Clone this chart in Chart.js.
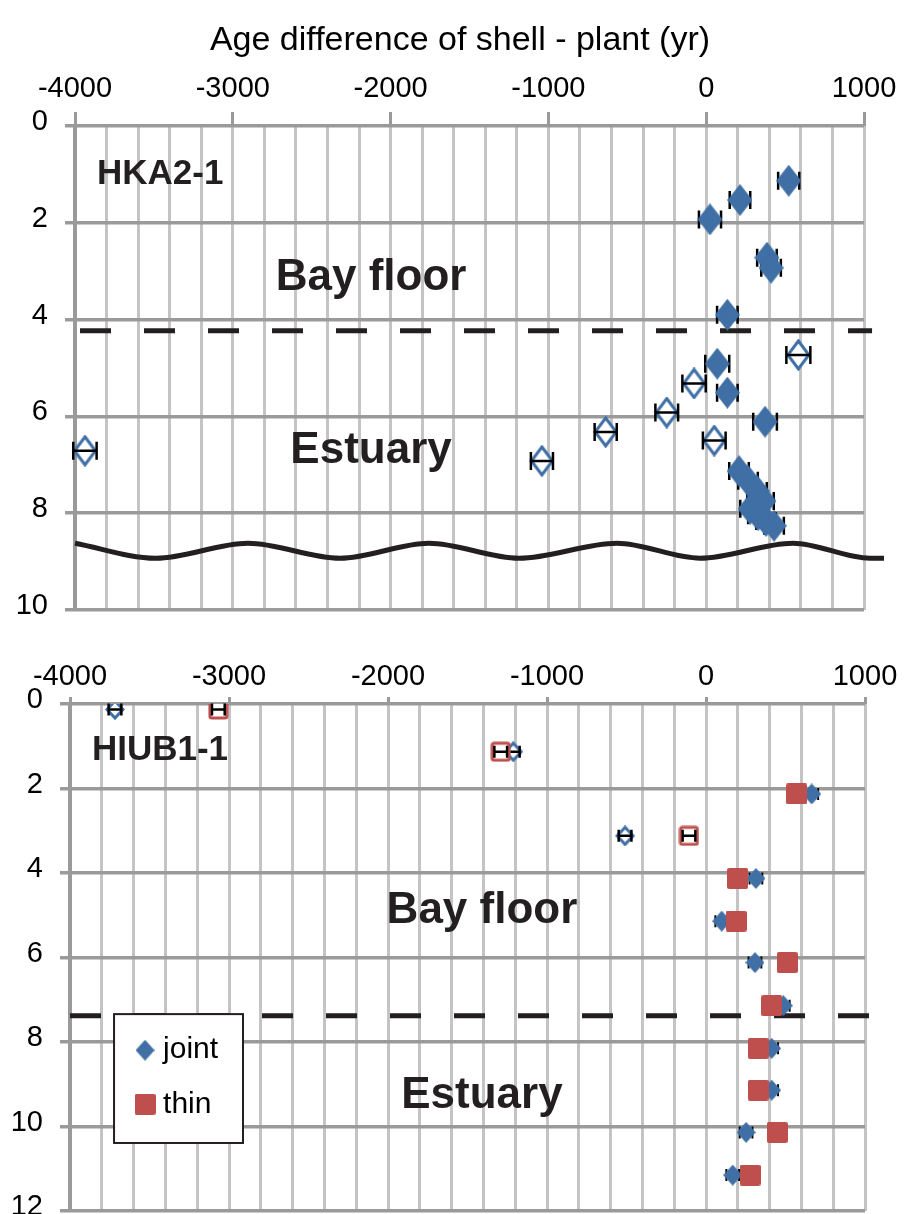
<!DOCTYPE html>
<html><head><meta charset="utf-8">
<script src="https://cdn.jsdelivr.net/npm/chart.js@4.4.1/dist/chart.umd.min.js"></script>
<style>
html,body{margin:0;padding:0;background:#fff;width:904px;height:1214px;overflow:hidden}
#c1{position:absolute;left:0;top:0}
#c2{position:absolute;left:0;top:640px}
</style></head><body>
<canvas id="c1" width="904" height="640"></canvas>
<canvas id="c2" width="904" height="594"></canvas>
<script>
// ---------- DATA ----------
const xTickValues = [-4000, -3000, -2000, -1000, 0, 1000];
const titleText = "Age difference of shell - plant (yr)";

// HKA2-1 (top panel)
const hkaFilledAge   = [523, 214, 24, 385, 411, 134, 70, 134, 373, 208, 265, 322, 366, 278, 328, 379, 430];
const hkaFilledDepth = [1.13, 1.53, 1.93, 2.72, 2.93, 3.90, 4.91, 5.51, 6.11, 7.13, 7.33, 7.54, 7.75, 7.91, 8.04, 8.16, 8.26];
const hkaFilledErr   = [67, 65, 70, 62, 62, 65, 76, 65, 75, 62, 62, 62, 62, 62, 62, 62, 62];
const hkaOpenAge     = [584, -77, -250, -637, 51, -1041, -3937];
const hkaOpenDepth   = [4.73, 5.32, 5.92, 6.32, 6.50, 6.92, 6.71];
const hkaOpenErr     = [76, 74, 72, 70, 72, 70, 74];
const hkaBoundaryDepth = 4.23;           // dashed line Bay floor / Estuary
const hkaWaveAge   = [-4000, -3487, -2904, -2321, -1757, -1186, -565, -39, 550, 1038, 1127];
const hkaWaveDepth = [8.62, 8.93, 8.62, 8.93, 8.62, 8.93, 8.62, 8.93, 8.62, 8.93, 8.93];

// HIUB1-1 (bottom panel)
const hiubFilledDepth = [2.13, 4.13, 5.14, 6.12, 7.14, 8.15, 9.14, 10.14, 11.15];
const hiubJointAge    = [665, 314, 99, 308, 486, 413, 413, 252, 168];
const hiubThinAge     = [570, 199, 189, 511, 413, 329, 329, 448, 277];
const hiubFilledErr   = [40, 40, 40, 40, 40, 40, 40, 40, 40];
const hiubOpenDepth   = [0.13, 1.13, 3.12];
const hiubJointOpenAge = [-3717, -1212, -509];
const hiubThinOpenAge  = [-3067, -1291, -107];
const hiubOpenErr      = [40, 40, 40];
const hiubBoundaryDepth = 7.38;

// ---------- STYLE ----------
const FONT = "'Liberation Sans', Arial, Helvetica, sans-serif";
const BLUE = '#3f6fa5';
const RED = '#bf4f4c';
const INK = '#231f20';
Chart.defaults.font.family = FONT;
Chart.defaults.color = '#000';

function diamond(w, h, fill, stroke, lw) {
  const c = document.createElement('canvas'); c.width = w; c.height = h;
  const g = c.getContext('2d');
  const o = stroke ? lw / 2 + 0.5 : 0;
  g.beginPath(); g.moveTo(w / 2, o); g.lineTo(w - o, h / 2); g.lineTo(w / 2, h - o); g.lineTo(o, h / 2); g.closePath();
  g.fillStyle = fill; g.fill();
  if (stroke) { g.lineWidth = lw; g.strokeStyle = stroke; g.lineJoin = 'miter'; g.stroke(); }
  return c;
}
function square(s, fill, stroke, lw) {
  const c = document.createElement('canvas'); c.width = s; c.height = s;
  const g = c.getContext('2d');
  const o = stroke ? lw / 2 + 0.5 : 0;
  g.beginPath();
  if (g.roundRect) g.roundRect(o, o, s - 2 * o, s - 2 * o, 2); else g.rect(o, o, s - 2 * o, s - 2 * o);
  g.fillStyle = fill; g.fill();
  if (stroke) { g.lineWidth = lw; g.strokeStyle = stroke; g.stroke(); }
  return c;
}
const pts = (xs, ys) => xs.map((x, i) => ({ x: x, y: ys[i] }));

// error bars plugin
function drawErr(chart, i) {
  const ds = chart.data.datasets[i];
  const xs = chart.scales.x, ys = chart.scales.y, ctx = chart.ctx;
  ctx.save();
  ctx.strokeStyle = '#000'; ctx.lineWidth = ds.errLine || 2.5;
  const cap = ds.errCap || 8;
  ds.data.forEach((p, k) => {
    const e = ds.errX[k];
    const x1 = xs.getPixelForValue(p.x - e), x2 = xs.getPixelForValue(p.x + e), y = ys.getPixelForValue(p.y);
    ctx.beginPath();
    ctx.moveTo(x1, y); ctx.lineTo(x2, y);
    ctx.moveTo(x1, y - cap); ctx.lineTo(x1, y + cap);
    ctx.moveTo(x2, y - cap); ctx.lineTo(x2, y + cap);
    ctx.stroke();
  });
  ctx.restore();
}
const errPlugin = {
  id: 'errbars',
  beforeDatasetDraw(chart, args) { const ds = chart.data.datasets[args.index]; if (ds.errX && !ds.errOnTop) drawErr(chart, args.index); },
  afterDatasetDraw(chart, args) { const ds = chart.data.datasets[args.index]; if (ds.errX && ds.errOnTop) drawErr(chart, args.index); }
};
// text annotations plugin (positions given in data units)
const textPlugin = {
  id: 'texts',
  afterDatasetsDraw(chart, args, opts) {
    const ctx = chart.ctx, xs = chart.scales.x, ys = chart.scales.y;
    ctx.save();
    (opts.items || []).forEach(t => {
      ctx.font = t.font; ctx.fillStyle = t.color || INK;
      ctx.textAlign = t.align || 'center'; ctx.textBaseline = 'middle';
      const x = t.px !== undefined ? t.px : xs.getPixelForValue(t.x);
      const y = t.py !== undefined ? t.py : ys.getPixelForValue(t.y);
      ctx.fillText(t.text, x, y);
    });
    if (opts.legend) {
      const L = opts.legend;
      const x1 = xs.getPixelForValue(L.x1), x2 = xs.getPixelForValue(L.x2);
      const y1 = ys.getPixelForValue(L.y1), y2 = ys.getPixelForValue(L.y2);
      ctx.fillStyle = '#fff'; ctx.fillRect(x1, y1, x2 - x1, y2 - y1);
      ctx.strokeStyle = INK; ctx.lineWidth = 2; ctx.strokeRect(x1, y1, x2 - x1, y2 - y1);
      const h = y2 - y1;
      L.entries.forEach((e, k) => {
        const cy = y1 + h * (k === 0 ? 0.28 : 0.70);
        ctx.drawImage(e.img, x1 + 31 - e.img.width / 2, cy - e.img.height / 2);
        ctx.font = L.font; ctx.fillStyle = '#000'; ctx.textAlign = 'left'; ctx.textBaseline = 'middle';
        ctx.fillText(e.label, x1 + 49, cy);
      });
    }
    ctx.restore();
  }
};

function axes(cfg) {
  return {
    x: {
      type: 'linear', position: 'top', bounds: 'data',
      afterDataLimits: s => { s.min = -4000; s.max = 1000; },
      afterFit: s => { s.height = cfg.top; s.paddingLeft = 0; s.paddingRight = 0; },
      afterBuildTicks: s => { const t = []; for (let v = -4000; v <= 1000; v += 200) t.push({ value: v }); s.ticks = t; },
      ticks: {
        autoSkip: false, maxRotation: 0, minRotation: 0, padding: cfg.xPad,
        font: { size: 29 }, color: '#000',
        callback: v => xTickValues.includes(v) ? String(v) : ''
      },
      grid: {
        color: c => (c.tick && c.tick.value === -4000) ? '#9a9a9a' : '#c4c4c4',
        lineWidth: 3,
        tickColor: c => (c.tick && xTickValues.includes(c.tick.value)) ? '#9a9a9a' : 'rgba(0,0,0,0)',
        tickLength: cfg.xTick, tickWidth: 3
      },
      border: { display: false }
    },
    y: {
      type: 'linear', reverse: true, min: 0, max: cfg.ymax,
      afterFit: s => { s.width = cfg.left; s.paddingTop = 0; s.paddingBottom = 0; },
      ticks: { stepSize: 2, padding: 17, labelOffset: -4, font: { size: 29 }, color: '#000' },
      grid: { color: '#9a9a9a', lineWidth: 3.5, tickLength: 10, tickColor: '#9a9a9a', tickWidth: 3.5 },
      border: { display: true, color: '#9a9a9a', width: 4 }
    }
  };
}

// ---------- TOP CHART ----------
const dTop = diamond(25, 32, BLUE, null, 0);
const dTopOpen = diamond(25, 32, '#fff', BLUE, 3);
new Chart(document.getElementById('c1'), {
  type: 'scatter',
  data: {
    datasets: [
      { label: 'joint', data: pts(hkaFilledAge, hkaFilledDepth), pointStyle: dTop, pointRadius: 12, errX: hkaFilledErr, errCap: 9, order: 1 },
      { label: 'joint (open)', data: pts(hkaOpenAge, hkaOpenDepth), pointStyle: dTopOpen, pointRadius: 12, errX: hkaOpenErr, errCap: 9, errOnTop: true, order: 2 },
      { type: 'line', label: 'boundary', data: pts([-4000, 1051], [hkaBoundaryDepth, hkaBoundaryDepth]), borderColor: INK, borderWidth: 5, borderDash: [31, 33], borderDashOffset: 59, pointRadius: 0, clip: false, order: 5 },
      { type: 'line', label: 'unconformity', data: pts(hkaWaveAge, hkaWaveDepth), borderColor: INK, borderWidth: 5, cubicInterpolationMode: 'monotone', pointRadius: 0, clip: false, order: 5 }
    ]
  },
  options: {
    responsive: false, animation: false, events: [],
    layout: { padding: { left: 0, right: 40, top: 0, bottom: 30 } },
    scales: axes({ top: 126, left: 75, ymax: 10, xTick: 14, xPad: 6 }),
    plugins: {
      legend: { display: false }, tooltip: { enabled: false },
      texts: {
        items: [
          { text: titleText, px: 460, py: 41, font: '34px ' + FONT, color: '#000' },
          { text: 'HKA2-1', x: -3861, y: 0.99, align: 'left', font: 'bold 35px ' + FONT },
          { text: 'Bay floor', x: -2124, y: 3.14, font: 'bold 44px ' + FONT },
          { text: 'Estuary', x: -2124, y: 6.71, font: 'bold 44px ' + FONT }
        ]
      }
    }
  },
  plugins: [errPlugin, textPlugin]
});

// ---------- BOTTOM CHART ----------
const dBot = diamond(19, 21, BLUE, null, 0);
const dBotOpen = diamond(20, 21, '#fff', BLUE, 3);
const sBot = square(21, RED, null, 0);
const sBotOpen = square(21, '#fff', RED, 3);
new Chart(document.getElementById('c2'), {
  type: 'scatter',
  data: {
    datasets: [
      { label: 'thin', data: pts(hiubThinAge, hiubFilledDepth), pointStyle: sBot, pointRadius: 10, errX: hiubFilledErr, errCap: 6, errLine: 2, order: 0 },
      { label: 'joint', data: pts(hiubJointAge, hiubFilledDepth), pointStyle: dBot, pointRadius: 10, errX: hiubFilledErr, errCap: 6, errLine: 2, order: 1 },
      { label: 'thin (open)', data: pts(hiubThinOpenAge, hiubOpenDepth), pointStyle: sBotOpen, pointRadius: 10, errX: hiubOpenErr, errCap: 6, errLine: 2.5, errOnTop: true, order: 2 },
      { label: 'joint (open)', data: pts(hiubJointOpenAge, hiubOpenDepth), pointStyle: dBotOpen, pointRadius: 10, errX: hiubOpenErr, errCap: 6, errLine: 2.5, errOnTop: true, order: 3 },
      { type: 'line', label: 'boundary', data: pts([-4000, 1025], [hiubBoundaryDepth, hiubBoundaryDepth]), borderColor: INK, borderWidth: 5, borderDash: [31, 33], borderDashOffset: 0, pointRadius: 0, clip: false, order: 5 }
    ]
  },
  options: {
    responsive: false, animation: false, events: [],
    layout: { padding: { left: 0, right: 39, top: 0, bottom: 23 } },
    scales: axes({ top: 64, left: 70, ymax: 12, xTick: 7, xPad: 3 }),
    plugins: {
      legend: { display: false }, tooltip: { enabled: false },
      texts: {
        items: [
          { text: 'HIUB1-1', x: -3862, y: 1.09, align: 'left', font: 'bold 35px ' + FONT },
          { text: 'Bay floor', x: -1409, y: 4.90, font: 'bold 44px ' + FONT },
          { text: 'Estuary', x: -1409, y: 9.28, font: 'bold 44px ' + FONT }
        ],
        legend: {
          x1: -3723, x2: -2912, y1: 7.34, y2: 10.39, font: '30px ' + FONT,
          entries: [ { label: 'joint', img: dBot }, { label: 'thin', img: sBot } ]
        }
      }
    }
  },
  plugins: [errPlugin, textPlugin]
});
</script>
</body></html>
